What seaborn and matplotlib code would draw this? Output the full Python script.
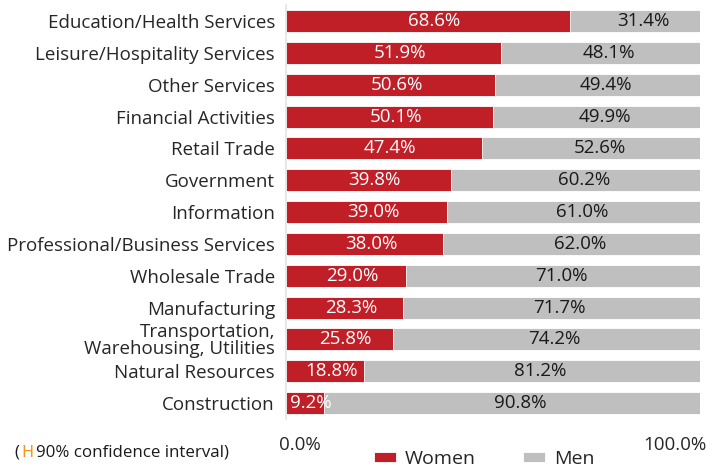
import numpy as np
import pandas as pd
import matplotlib
matplotlib.use("Agg")
import matplotlib.pyplot as plt
import matplotlib.transforms as mtransforms
import seaborn as sns

# data
industries = [
    "Education/Health Services",
    "Leisure/Hospitality Services",
    "Other Services",
    "Financial Activities",
    "Retail Trade",
    "Government",
    "Information",
    "Professional/Business Services",
    "Wholesale Trade",
    "Manufacturing",
    "Transportation,\nWarehousing, Utilities",
    "Natural Resources",
    "Construction",
]
women = [68.6, 51.9, 50.6, 50.1, 47.4, 39.8, 39.0, 38.0, 29.0, 28.3, 25.8, 18.8, 9.2]
men = [31.4, 48.1, 49.4, 49.9, 52.6, 60.2, 61.0, 62.0, 71.0, 71.7, 74.2, 81.2, 90.8]
x_ticks = [0, 100]
x_tick_labels = ["0.0%", "100.0%"]

RED = "#C01F28"
GREY = "#BFBFBF"
FS = 13.5

df = pd.DataFrame({"industry": industries, "women": women, "men": men})
df["total"] = df["women"] + df["men"]

sns.set_style("white")
plt.rcParams["font.family"] = ["Open Sans", "DejaVu Sans"]

fig = plt.figure(figsize=(7.25, 4.67), dpi=100)
ax = fig.add_axes([0.3945, 0.1028, 0.571, 0.886])

# grey full bar behind, red women bar on top
sns.barplot(data=df, x="total", y="industry", color=GREY, width=0.69,
            saturation=1, ax=ax, label="Men", edgecolor="white", linewidth=0.6)
sns.barplot(data=df, x="women", y="industry", color=RED, width=0.69,
            saturation=1, ax=ax, label="Women", edgecolor="white", linewidth=0.6)

for i, (w, m) in enumerate(zip(df["women"], df["men"])):
    ax.text(w / 2 + 1.5, i, f"{w:.1f}%", ha="center", va="center",
            color="white", fontsize=FS)
    ax.text(w + m / 2 + 2, i, f"{m:.1f}%", ha="center", va="center",
            color="#1a1a1a", fontsize=FS)

ax.set_xlim(0, 100)
ax.set_ylim(len(industries) - 0.5, -0.5)
ax.set_xticks(x_ticks)
ax.set_xticklabels(x_tick_labels, fontsize=FS)
ax.set_xlabel("")
ax.set_ylabel("")
ax.tick_params(axis="y", length=0, pad=8, labelsize=FS)
ax.tick_params(axis="x", length=0, pad=12)
for lbl in ax.get_yticklabels():
    lbl.set_linespacing(0.92)

# nudge the two x tick labels like the original
shifts = [14, -25]
for lbl, dx in zip(ax.get_xticklabels(), shifts):
    lbl.set_transform(lbl.get_transform() +
                      mtransforms.ScaledTranslation(dx / 100, 0, fig.dpi_scale_trans))

for s in ["top", "right", "bottom"]:
    ax.spines[s].set_visible(False)
ax.spines["left"].set_color("#e3e3e3")
ax.spines["left"].set_linewidth(1.2)

handles, labels = ax.get_legend_handles_labels()
order = [labels.index("Women"), labels.index("Men")]
fig.legend([handles[k] for k in order], [labels[k] for k in order],
           loc="lower center", bbox_to_anchor=(0.668, -0.04), ncol=2,
           frameon=False, fontsize=FS + 0.5, handlelength=1.15, handleheight=0.45,
           columnspacing=2.4, handletextpad=0.45)
if ax.get_legend() is not None:
    ax.get_legend().remove()

fig.text(0.02, 0.032, "(", fontsize=12.2, color="#1a1a1a", va="center")
fig.text(0.029, 0.032, "H", fontsize=11.5, color="#F7941D", va="center",
         family="DejaVu Sans")
fig.text(0.05, 0.032, "90% confidence interval)", fontsize=12.2,
         color="#1a1a1a", va="center")

fig.savefig("out.png", dpi=100)
